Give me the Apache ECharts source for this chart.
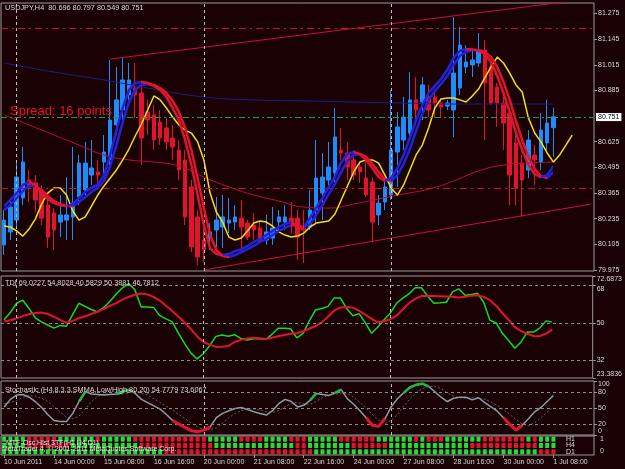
<!DOCTYPE html>
<html>
<head>
<meta charset="utf-8">
<title>USDJPY,H4</title>
<script src="https://cdn.jsdelivr.net/npm/echarts@6/dist/echarts.min.js"></script>
<style>
  html, body { margin: 0; padding: 0; background: #1a0204; }
  #chart { width: 625px; height: 469px; }
</style>
</head>
<body>
<div id="chart"></div>
<script>
// ---- data (bar 0 = 10 Jun 16:00, bar 88 = 1 Jul 08:00) ----
const slotCount = 95; // 89 bars plus empty room on the right

const dateTickIdx = [0, 8, 16, 24, 32, 40, 48, 56, 64, 72, 80, 88];
const dateTickText = ['10 Jun 2011', '14 Jun 00:00', '15 Jun 08:00', '16 Jun 16:00', '20 Jun 00:00', '21 Jun 08:00',
  '22 Jun 16:00', '24 Jun 00:00', '27 Jun 08:00', '28 Jun 16:00', '30 Jun 00:00', '1 Jul 08:00'];
const weekGridIdx = [2, 32, 62];

const priceTicks = [79.975, 80.105, 80.235, 80.365, 80.495, 80.625, 80.885, 81.015, 81.145, 81.275];
const lastPrice = 80.751;
const redLevels = [81.201, 80.385];

// [open, close, low, high]
const candles = [
  [80.102, 80.228, 80.051, 80.279], [80.168, 80.294, 80.127, 80.330], [80.228, 80.446, 80.193, 80.517], [80.340, 80.522, 80.304, 80.598],
  [80.431, 80.396, 80.320, 80.482], [80.416, 80.330, 80.269, 80.456], [80.380, 80.238, 80.203, 80.406], [80.304, 80.142, 80.086, 80.330],
  [80.264, 80.178, 80.076, 80.289], [80.218, 80.254, 80.142, 80.355], [80.228, 80.254, 80.127, 80.446], [80.244, 80.314, 80.127, 80.598],
  [80.345, 80.517, 80.304, 80.558], [80.380, 80.517, 80.355, 80.624], [80.456, 80.492, 80.406, 80.634], [80.472, 80.456, 80.380, 80.533],
  [80.522, 80.573, 80.456, 80.659], [80.533, 80.735, 80.507, 81.039], [80.710, 80.837, 80.659, 81.004], [80.786, 80.938, 80.710, 81.049],
  [80.862, 80.938, 80.837, 81.024], [80.897, 80.862, 80.745, 81.024], [80.872, 80.644, 80.507, 80.913], [80.776, 80.735, 80.659, 80.837],
  [80.761, 80.634, 80.583, 80.811], [80.725, 80.644, 80.608, 80.786], [80.695, 80.624, 80.583, 80.745], [80.644, 80.598, 80.533, 80.710],
  [80.583, 80.482, 80.431, 80.634], [80.533, 80.244, 80.203, 80.583], [80.396, 80.092, 80.066, 80.431], [80.244, 80.041, 80.000, 80.279],
  [80.127, 80.076, 80.015, 80.193], [80.137, 80.168, 80.076, 80.213], [80.178, 80.228, 80.092, 80.345], [80.193, 80.244, 80.086, 80.355],
  [80.213, 80.228, 80.162, 80.340], [80.218, 80.244, 80.178, 80.304], [80.238, 80.193, 80.066, 80.330], [80.213, 80.142, 80.127, 80.228],
  [80.203, 80.178, 80.127, 80.264], [80.188, 80.117, 80.112, 80.218], [80.127, 80.168, 80.102, 80.254], [80.137, 80.188, 80.102, 80.294],
  [80.218, 80.244, 80.178, 80.279], [80.218, 80.244, 80.178, 80.304], [80.238, 80.218, 80.162, 80.320], [80.238, 80.142, 80.026, 80.279],
  [80.193, 80.178, 80.010, 80.279], [80.193, 80.279, 80.178, 80.380], [80.279, 80.441, 80.213, 80.634], [80.365, 80.446, 80.228, 80.568],
  [80.431, 80.497, 80.396, 80.624], [80.467, 80.649, 80.416, 80.796], [80.583, 80.568, 80.533, 80.695], [80.568, 80.497, 80.431, 80.624],
  [80.533, 80.456, 80.431, 80.583], [80.497, 80.472, 80.416, 80.522], [80.441, 80.355, 80.345, 80.533], [80.421, 80.218, 80.117, 80.446],
  [80.254, 80.314, 80.203, 80.355], [80.320, 80.396, 80.279, 80.431], [80.355, 80.583, 80.330, 80.887], [80.573, 80.700, 80.396, 80.776],
  [80.634, 80.750, 80.583, 80.852], [80.669, 80.837, 80.634, 80.978], [80.837, 80.786, 80.735, 80.953], [80.826, 80.913, 80.735, 80.953],
  [80.852, 80.786, 80.750, 80.913], [80.852, 80.821, 80.745, 80.887], [80.821, 80.801, 80.750, 80.847], [80.806, 80.821, 80.786, 80.837],
  [80.786, 80.973, 80.649, 81.257], [80.897, 81.115, 80.862, 81.207], [81.004, 81.029, 80.973, 81.115], [81.014, 81.039, 80.953, 81.090],
  [81.024, 81.090, 81.004, 81.176], [81.090, 80.923, 80.634, 81.141], [81.004, 80.821, 80.811, 81.039], [80.902, 80.821, 80.700, 80.923],
  [80.821, 80.720, 80.583, 80.862], [80.771, 80.456, 80.304, 80.786], [80.619, 80.391, 80.304, 80.659], [80.517, 80.431, 80.244, 80.558],
  [80.482, 80.634, 80.441, 80.684], [80.558, 80.533, 80.406, 80.608], [80.522, 80.684, 80.482, 80.771], [80.619, 80.720, 80.583, 80.837],
  [80.696, 80.751, 80.549, 80.797]
];

const maFast = [
  80.299, 80.330, 80.365, 80.406, 80.421, 80.406, 80.365, 80.335, 80.314, 80.304,
  80.299, 80.309, 80.340, 80.370, 80.391, 80.406, 80.456, 80.558, 80.684, 80.796,
  80.887, 80.923, 80.928, 80.923, 80.908, 80.887, 80.852, 80.796, 80.735, 80.634,
  80.507, 80.355, 80.203, 80.086, 80.056, 80.051, 80.056, 80.071, 80.081, 80.097,
  80.117, 80.132, 80.152, 80.173, 80.193, 80.208, 80.218, 80.198, 80.193, 80.238,
  80.289, 80.340, 80.396, 80.446, 80.522, 80.563, 80.573, 80.563, 80.532, 80.492,
  80.446, 80.426, 80.441, 80.492, 80.558, 80.644, 80.735, 80.811, 80.872, 80.908,
  80.943, 80.989, 81.049, 81.085, 81.095, 81.092, 81.087, 81.070, 81.029, 80.958,
  80.872, 80.776, 80.669, 80.583, 80.507, 80.461, 80.446, 80.456, 80.502
];
const maSlow = [
  80.279, 80.304, 80.340, 80.375, 80.401, 80.401, 80.380, 80.350, 80.325, 80.309,
  80.299, 80.299, 80.320, 80.345, 80.370, 80.391, 80.426, 80.502, 80.608, 80.725,
  80.826, 80.887, 80.913, 80.918, 80.913, 80.897, 80.872, 80.832, 80.776, 80.695,
  80.583, 80.441, 80.289, 80.152, 80.076, 80.046, 80.041, 80.051, 80.066, 80.081,
  80.097, 80.117, 80.132, 80.152, 80.173, 80.188, 80.203, 80.198, 80.188, 80.208,
  80.254, 80.304, 80.360, 80.411, 80.472, 80.527, 80.558, 80.563, 80.548, 80.512,
  80.472, 80.436, 80.426, 80.456, 80.512, 80.588, 80.679, 80.766, 80.837, 80.882,
  80.918, 80.958, 81.014, 81.060, 81.080, 81.090, 81.090, 81.080, 81.054, 81.004,
  80.928, 80.837, 80.730, 80.634, 80.548, 80.487, 80.451, 80.441, 80.472
];
// yellow line runs 3 bars past the last candle
const yellowLine = [
  80.198, 80.193, 80.173, 80.147, 80.183, 80.233, 80.309, 80.365, 80.391, 80.391,
  80.355, 80.274, 80.228, 80.244, 80.299, 80.355, 80.401, 80.441, 80.482, 80.533,
  80.588, 80.654, 80.715, 80.786, 80.857, 80.837, 80.796, 80.750, 80.710, 80.684,
  80.669, 80.624, 80.533, 80.365, 80.269, 80.218, 80.142, 80.127, 80.137, 80.173,
  80.213, 80.223, 80.218, 80.198, 80.168, 80.152, 80.142, 80.147, 80.162, 80.193,
  80.213, 80.218, 80.223, 80.259, 80.330, 80.401, 80.472, 80.522, 80.533, 80.533,
  80.517, 80.456, 80.391, 80.355, 80.406, 80.482, 80.558, 80.608, 80.695, 80.796,
  80.842, 80.847, 80.847, 80.837, 80.826, 80.857, 80.892, 80.948, 81.004, 81.054,
  81.024, 80.973, 80.913, 80.877, 80.745, 80.669, 80.624, 80.568, 80.522, 80.558,
  80.608, 80.659
];
// long averages, read at every 4th / 8th bar: [bar, price]
const navyMa = [[0, 81.024], [8, 80.978], [16, 80.938], [24, 80.892], [32, 80.852], [40, 80.837],
  [48, 80.832], [56, 80.826], [64, 80.821], [72, 80.816], [88, 80.816]];
const crimsonMa = [[0, 80.761], [4, 80.710], [8, 80.659], [12, 80.608], [16, 80.558], [20, 80.533],
  [24, 80.522], [28, 80.502], [32, 80.446], [36, 80.396], [40, 80.355], [44, 80.325], [48, 80.294],
  [52, 80.289], [56, 80.309], [60, 80.335], [64, 80.360], [68, 80.385], [72, 80.426], [76, 80.477],
  [80, 80.507], [84, 80.517], [88, 80.522]];
const channelTop = [[17, 81.044], [94, 81.350]];
const channelBottom = [[32, 79.975], [94, 80.309]];

const tdiPrice = [
  51.5, 55, 59.5, 61, 57, 52.5, 50.5, 49, 47.5, 48.8,
  48.4, 54, 59.5, 58, 56.5, 55.3, 57.5, 60.5, 64, 67,
  69, 66, 57.7, 57.7, 57.5, 53.5, 52, 50.5, 45, 40,
  35.4, 32.6, 35.2, 39, 43.5, 44.2, 43.6, 44.3, 42.5, 41.7,
  42.3, 42.5, 42, 44.5, 47.4, 47.4, 47.2, 42.8, 45, 51,
  56.3, 57, 58, 62, 62, 57, 53.5, 54.5, 50, 45,
  48, 51.5, 54.7, 59.5, 62, 64, 67, 67, 63, 59.5,
  59.7, 60, 65, 66.5, 63.4, 63.8, 64.3, 60, 51.3, 50,
  45, 41.5, 37.8, 40.8, 45.6, 45.6, 47.5, 51, 50.39
];
const tdiSignal = [
  50.7, 51.3, 52.2, 53.3, 54.2, 54.8, 55, 54.3, 53, 51.5,
  50, 51, 52.3, 53.2, 54.3, 55.5, 56.8, 58.3, 59.6, 61.3,
  62.6, 63.6, 64.2, 63.8, 62.6, 60.8, 58.3, 55.8, 53, 50.2,
  47, 43.5, 40.8, 39.5, 38.4, 38.5, 38.8, 40.8, 41.8, 42.5,
  42.8, 42.6, 42.2, 42.8, 43.6, 44.2, 44.8, 45, 46, 47.2,
  48.5, 50.3, 53, 56, 57.5, 57.7, 57.4, 55.8, 54, 52,
  50.3, 50.8, 51.8, 53.5, 56.5, 59.5, 61.6, 63, 63.1, 63,
  62.9, 62.8, 62.6, 62.3, 62.6, 63.2, 63.4, 62.6, 61, 58.3,
  54.7, 51.5, 48, 46, 44.8, 43.7, 43.6, 44.8, 46.78
];
const tdiTicks = [23.3836, 32, 50, 72.6873];
const tdiTopLevelTick = [68]; // drawn on its own axis so it is not hidden next to 72.6873
const tdiLevels = [68, 50, 32];

const stochMain = [
  52, 66, 74, 75, 70, 62, 51, 38, 27, 25,
  25, 40, 62, 80, 76, 75, 74, 75, 76, 80,
  84, 77, 66, 60, 54, 48, 38, 27, 20, 14,
  8, 6, 9, 15, 32, 40, 45, 49, 51, 47,
  43, 40, 37, 45, 58, 66, 62, 52, 55, 64,
  77, 75, 73, 78, 84, 67, 57, 45, 32, 18,
  16, 30, 52, 67, 78, 88, 93, 95, 90, 80,
  70, 62, 68, 70, 70, 65, 69, 60, 52, 44,
  32, 20, 9, 18, 30, 43, 51, 62, 73
];
const stochSignal = [
  58, 60, 64, 70, 73, 72, 68, 62, 53, 42,
  33, 30, 35, 48, 62, 72, 76, 76, 75, 76,
  78, 80, 78, 74, 67, 60, 53, 46, 38, 30,
  22, 15, 10, 10, 13, 22, 32, 40, 45, 48,
  48, 46, 43, 42, 45, 52, 59, 60, 58, 57,
  62, 69, 74, 75, 78, 77, 70, 60, 50, 38,
  27, 21, 27, 38, 53, 67, 78, 86, 90, 90,
  86, 78, 72, 69, 68, 69, 68, 66, 61, 55,
  47, 38, 29, 20, 17, 23, 32, 42, 52
];
const stochTicks = [0, 20, 50, 80, 100];
const stochLevels = [80, 50, 20];
const stochHighZones = [[12, 13], [18, 20], [49, 50], [53, 54], [64, 68]];
const stochLowZones = [[27, 33], [58, 61], [80, 83]];

// MTF histogram rows, run-length: [state (1 = green), bars]
const heatRows = ['H1', 'H4', 'D1'];
const heatH1 = [[1, 4], [0, 5], [1, 6], [0, 1], [1, 5], [0, 12], [1, 5], [0, 4], [1, 4], [0, 3], [1, 5],
  [0, 6], [1, 6], [0, 1], [1, 1], [0, 3], [1, 6], [0, 7], [1, 1], [0, 1], [1, 3]];
const heatH4 = [[1, 4], [0, 7], [1, 11], [0, 12], [1, 13], [0, 2], [1, 7], [0, 6], [1, 13], [0, 11], [1, 3]];
const heatD1 = [[1, 26], [0, 24], [1, 36], [0, 3]];

// ---- styling ----
const bg = '#1a0204';
const txt = '#d8d8d8';
const frame = '#9a9a9a';
const font = 'Liberation Sans, Arial, sans-serif';
const maUp = '#2222dd';
const maDown = '#e0142c';

const slots = Array.from({ length: slotCount }, (_, i) => String(i));

function dirPieces(vals) {
  const pieces = [];
  let start = 0;
  let rising = vals[1] >= vals[0];
  for (let i = 1; i < vals.length; i++) {
    let r = rising;
    if (vals[i] > vals[i - 1]) r = true;
    else if (vals[i] < vals[i - 1]) r = false;
    if (r !== rising) {
      pieces.push({ gt: start, lte: i - 1, color: rising ? maUp : maDown });
      start = i - 1;
      rising = r;
    }
  }
  pieces.push({ gt: start, lte: vals.length - 1, color: rising ? maUp : maDown });
  pieces[0].gte = 0;
  delete pieces[0].gt;
  return pieces;
}

function maskZones(vals, zones) {
  return vals.map((v, i) => zones.some(z => i >= z[0] && i <= z[1]) ? v : null);
}

function expandRuns(runs, row) {
  const out = [];
  let i = 0;
  runs.forEach(([state, n]) => {
    for (let k = 0; k < n; k++) out.push([i++, row, state]);
  });
  return out;
}

const heatData = [].concat(expandRuns(heatH1, 0), expandRuns(heatH4, 1), expandRuns(heatD1, 2));

const vGrid = weekGridIdx.map(i => ({ xAxis: i, lineStyle: { color: '#bdbdbd', type: [3, 3], width: 1 } }));

function plainX(gridIndex) {
  return {
    type: 'category', gridIndex, data: slots, boundaryGap: true,
    axisLine: { show: false }, axisTick: { show: false }, axisLabel: { show: false }, splitLine: { show: false }
  };
}

const labelBase = { color: txt, fontSize: 7, margin: 4, fontFamily: font, hideOverlap: false, showMinLabel: true, showMaxLabel: true };

const chart = echarts.init(document.getElementById('chart'));

chart.setOption({
  backgroundColor: bg,
  animation: false,
  textStyle: { fontFamily: font },
  title: [
    { text: 'USDJPY,H4  80.696 80.797 80.549 80.751', left: 5, top: 4, padding: 0,
      textStyle: { color: txt, fontSize: 7.3, fontWeight: 'normal', fontFamily: font } },
    { text: 'Spread: 16 points', left: 10, top: 105, padding: 0,
      textStyle: { color: '#e0142c', fontSize: 13, fontWeight: 'normal', fontFamily: font } },
    { text: 'TDI 69.0227 54.8028 40.5829 50.3881 46.7812', left: 5, top: 279, padding: 0,
      textStyle: { color: txt, fontSize: 7.3, fontWeight: 'normal', fontFamily: font } },
    { text: 'Stochastic (H4,8,3,3,SMMA,Low/High,80,20) 54.7779 73.6067', left: 5, top: 386, padding: 0,
      textStyle: { color: txt, fontSize: 7.3, fontWeight: 'normal', fontFamily: font } },
    { text: 'MTF-Osc Hist 3TF(H1,H4,D1)', left: 6, top: 440, padding: 0,
      textStyle: { color: '#e8e8e8', fontSize: 7, fontWeight: 'normal', fontFamily: font } },
    { text: 'MetaTrader 4, \u00a9 2001-2011 MetaQuotes Software Corp.', left: 2, top: 446, padding: 0,
      textStyle: { color: '#e8e8e8', fontSize: 7, fontWeight: 'normal', fontFamily: font } }
  ],
  grid: [
    { left: 1, right: 31, top: 3, height: 268, show: true, borderColor: frame, borderWidth: 1, backgroundColor: 'transparent' },
    { left: 1, right: 31, top: 276, height: 102, show: true, borderColor: frame, borderWidth: 1, backgroundColor: 'transparent' },
    { left: 1, right: 31, top: 381, height: 54, show: true, borderColor: frame, borderWidth: 1, backgroundColor: 'transparent' },
    { left: 1, right: 31, top: 436, height: 19, show: true, borderColor: frame, borderWidth: 1, backgroundColor: 'transparent' }
  ],
  xAxis: [
    plainX(0), plainX(1), plainX(2),
    {
      type: 'category', gridIndex: 3, data: slots, boundaryGap: true,
      axisLine: { show: false },
      axisTick: { show: true, alignWithLabel: true, length: 3, interval: i => dateTickIdx.includes(i), lineStyle: { color: frame } },
      axisLabel: {
        show: true, interval: i => dateTickIdx.includes(i), align: 'left', margin: 4, hideOverlap: false,
        color: txt, fontSize: 7, fontFamily: font,
        formatter: (v, i) => dateTickText[dateTickIdx.indexOf(i)] || ''
      },
      splitLine: { show: false }
    }
  ],
  yAxis: [
    {
      type: 'value', gridIndex: 0, position: 'right', min: 79.970, max: 81.328,
      splitLine: { show: false }, axisLine: { show: false },
      axisTick: { show: true, customValues: priceTicks, length: 3, lineStyle: { color: frame } },
      axisLabel: { ...labelBase, customValues: priceTicks, formatter: v => v.toFixed(3) }
    },
    {
      type: 'value', gridIndex: 1, position: 'right', min: 23.3836, max: 72.6873,
      splitLine: { show: false }, axisLine: { show: false },
      axisTick: { show: true, customValues: tdiTicks, length: 3, lineStyle: { color: frame } },
      axisLabel: {
        ...labelBase, customValues: tdiTicks, formatter: v => String(v),
        verticalAlignMaxLabel: 'top', verticalAlignMinLabel: 'bottom'
      }
    },
    {
      type: 'value', gridIndex: 2, position: 'right', min: 0, max: 100,
      splitLine: { show: false }, axisLine: { show: false },
      axisTick: { show: true, customValues: stochTicks, length: 3, lineStyle: { color: frame } },
      axisLabel: {
        ...labelBase, customValues: stochTicks, formatter: v => String(v),
        verticalAlignMaxLabel: 'top', verticalAlignMinLabel: 'bottom'
      }
    },
    {
      type: 'category', gridIndex: 3, position: 'right', data: heatRows, inverse: true,
      axisLine: { show: false }, axisTick: { show: false }, splitLine: { show: false },
      axisLabel: { inside: true, interval: 0, hideOverlap: false, margin: 19, color: txt, fontSize: 7, fontFamily: font }
    },
    {
      type: 'value', gridIndex: 3, position: 'right', min: 0, max: 1,
      splitLine: { show: false }, axisLine: { show: false }, axisTick: { show: false },
      axisLabel: {
        ...labelBase, customValues: [0, 1], margin: 6,
        verticalAlignMaxLabel: 'top', verticalAlignMinLabel: 'bottom'
      }
    },
    {
      type: 'value', gridIndex: 1, position: 'right', min: 23.3836, max: 72.6873,
      splitLine: { show: false }, axisLine: { show: false },
      axisTick: { show: true, customValues: tdiTopLevelTick, length: 3, lineStyle: { color: frame } },
      axisLabel: { ...labelBase, customValues: tdiTopLevelTick, formatter: v => String(v), verticalAlign: 'top' }
    }
  ],
  visualMap: [
    { type: 'piecewise', show: false, seriesIndex: 6, dimension: 0, pieces: dirPieces(maSlow) },
    { type: 'piecewise', show: false, seriesIndex: 7, dimension: 0, pieces: dirPieces(maFast) }
  ],
  series: [
    {
      type: 'candlestick', xAxisIndex: 0, yAxisIndex: 0, data: candles, barWidth: 4,
      itemStyle: { color: '#1e8cff', color0: '#e0142c', borderColor: '#1e8cff', borderColor0: '#e0142c', borderWidth: 1 },
      markLine: {
        silent: true, symbol: 'none', animation: false, label: { show: false },
        data: [
          ...vGrid,
          ...redLevels.map(v => ({ yAxis: v, lineStyle: { color: '#c8102e', type: [7, 4, 2, 4], width: 1 } })),
          {
            yAxis: lastPrice, lineStyle: { color: '#1fa045', type: [6, 3, 2, 3], width: 1 },
            label: {
              show: true, position: 'end', formatter: lastPrice.toFixed(3), distance: 2,
              backgroundColor: '#ffffff', color: '#000000', padding: [1, 2, 0, 2],
              fontSize: 7, fontFamily: font
            }
          }
        ]
      }
    },
    { type: 'line', xAxisIndex: 0, yAxisIndex: 0, data: navyMa, smooth: true, showSymbol: false,
      lineStyle: { color: '#1c1c8c', width: 1 }, z: 3 },
    { type: 'line', xAxisIndex: 0, yAxisIndex: 0, data: crimsonMa, smooth: true, showSymbol: false,
      lineStyle: { color: '#b4103c', width: 1 }, z: 3 },
    { type: 'line', xAxisIndex: 0, yAxisIndex: 0, data: channelTop, showSymbol: false,
      lineStyle: { color: '#c8103c', width: 1 }, z: 3 },
    { type: 'line', xAxisIndex: 0, yAxisIndex: 0, data: channelBottom, showSymbol: false,
      lineStyle: { color: '#c8103c', width: 1 }, z: 3 },
    { type: 'line', xAxisIndex: 0, yAxisIndex: 0, data: yellowLine, showSymbol: false,
      lineStyle: { color: '#f2e010', width: 1.5 }, z: 4 },
    { type: 'line', xAxisIndex: 0, yAxisIndex: 0, data: maSlow, showSymbol: false,
      lineStyle: { width: 2.5 }, z: 5 },
    { type: 'line', xAxisIndex: 0, yAxisIndex: 0, data: maFast, showSymbol: false,
      lineStyle: { width: 2.5 }, z: 5 },

    {
      type: 'line', xAxisIndex: 1, yAxisIndex: 1, data: tdiPrice, showSymbol: false,
      lineStyle: { color: '#10e010', width: 1.5 }, z: 3,
      markLine: {
        silent: true, symbol: 'none', animation: false, label: { show: false },
        data: [...vGrid, ...tdiLevels.map(v => ({ yAxis: v, lineStyle: { color: '#8a8a8a', type: [3, 3], width: 1 } }))]
      }
    },
    { type: 'line', xAxisIndex: 1, yAxisIndex: 1, data: tdiSignal, showSymbol: false,
      lineStyle: { color: '#e0142c', width: 2 }, z: 4 },

    { type: 'line', xAxisIndex: 2, yAxisIndex: 2, data: stochSignal, showSymbol: false,
      lineStyle: { color: '#56646e', width: 1, type: [2, 2] }, z: 3 },
    {
      type: 'line', xAxisIndex: 2, yAxisIndex: 2, data: stochMain, showSymbol: false,
      lineStyle: { color: '#8c9ca6', width: 1.5 }, z: 4,
      markLine: {
        silent: true, symbol: 'none', animation: false, label: { show: false },
        data: [...vGrid, ...stochLevels.map(v => ({ yAxis: v, lineStyle: { color: '#8a8a8a', type: [3, 3], width: 1 } }))]
      }
    },
    { type: 'line', xAxisIndex: 2, yAxisIndex: 2, data: maskZones(stochMain, stochHighZones), showSymbol: false,
      lineStyle: { color: '#1fb83a', width: 2.5 }, z: 5 },
    { type: 'line', xAxisIndex: 2, yAxisIndex: 2, data: maskZones(stochMain, stochLowZones), showSymbol: false,
      lineStyle: { color: '#e0142c', width: 3 }, z: 5 },

    {
      type: 'scatter', xAxisIndex: 3, yAxisIndex: 3, data: heatData, symbol: 'rect', symbolSize: [4, 5],
      itemStyle: { color: p => (p.value[2] ? '#22dd33' : '#e0142c'), opacity: 1 }, z: 2
    }
  ]
});
</script>
</body>
</html>
